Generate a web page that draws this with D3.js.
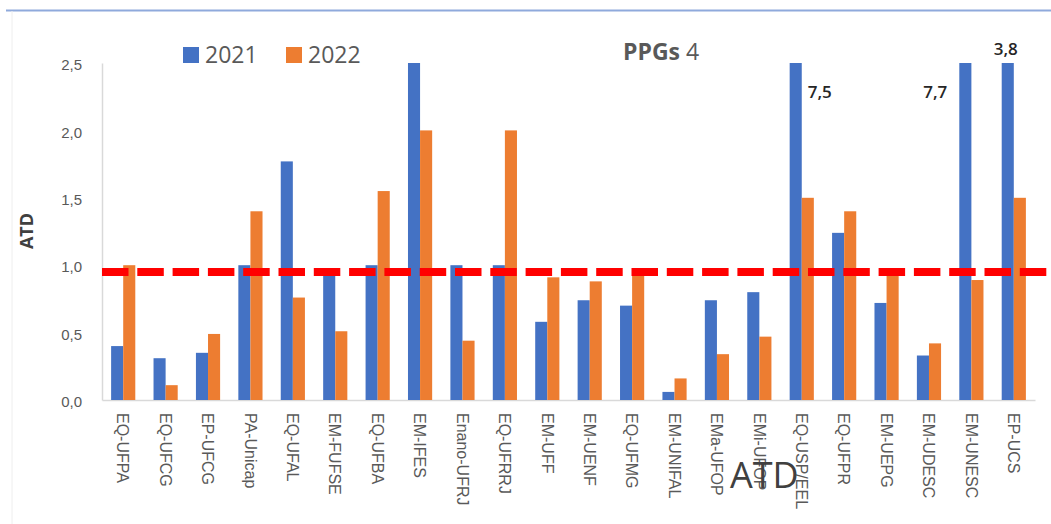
<!DOCTYPE html>
<html>
<head>
<meta charset="utf-8">
<script src="https://cdn.jsdelivr.net/npm/d3@7"></script>
<style>
  html, body { margin: 0; padding: 0; background: #fff; }
  svg { display: block; font-family: "Open Sans", "Liberation Sans", sans-serif; }
</style>
</head>
<body>
<svg id="chart" width="1051" height="524"></svg>
<script>
// ---- data ----
const categories = ["EQ-UFPA","EQ-UFCG","EP-UFCG","PA-Unicap","EQ-UFAL","EM-FUFSE","EQ-UFBA","EM-IFES","Enano-UFRJ","EQ-UFRRJ","EM-UFF","EM-UENF","EQ-UFMG","EM-UNIFAL","EMa-UFOP","EMi-UFOP","EQ-USP/EEL","EQ-UFPR","EM-UEPG","EM-UDESC","EM-UNESC","EP-UCS"];
const values2021 = [0.40,0.31,0.35,1.00,1.77,0.95,1.00,2.5,1.00,1.00,0.58,0.74,0.70,0.06,0.74,0.80,7.5,1.24,0.72,0.33,7.7,3.8];
const values2022 = [1.00,0.11,0.49,1.40,0.76,0.51,1.55,2.00,0.44,2.00,0.91,0.88,0.95,0.16,0.34,0.47,1.50,1.40,0.95,0.42,0.89,1.50];
const seriesNames = ["2021","2022"];
const yTicks = [0,0.5,1.0,1.5,2.0,2.5];
const referenceValue = 0.95;
const overflowLabels = [
  {category:"EQ-USP/EEL", text:"7,5"},
  {category:"EM-UNESC", text:"7,7"},
  {category:"EP-UCS", text:"3,8"}
];

// ---- layout ----
const W = 1051, H = 524;
const margin = {left:102, right:16, top:63, bottom:124};
const svg = d3.select("#chart");
const colors = {"2021":"#4472c4","2022":"#ed7d31"};

svg.append("rect").attr("width",W).attr("height",H).attr("fill","#fff");
// frame lines
svg.append("line").attr("x1",6).attr("x2",W).attr("y1",10.5).attr("y2",10.5)
  .attr("stroke","#8faadc").attr("stroke-width",2);
svg.append("line").attr("x1",12).attr("x2",12).attr("y1",11).attr("y2",H)
  .attr("stroke","#eeeeee").attr("stroke-width",1);

const x0 = d3.scaleBand().domain(categories).range([margin.left, W - margin.right])
  .paddingInner(0.43).paddingOuter(0.215);
const x1 = d3.scaleBand().domain(seriesNames).range([0, x0.bandwidth()]);
const y = d3.scaleLinear().domain([0,2.5]).range([H - margin.bottom, margin.top]);

const fmt = v => d3.format(".1f")(v).replace(".", ",");

// y axis
const yAxis = svg.append("g").attr("transform",`translate(${margin.left},0)`)
  .call(d3.axisLeft(y).tickValues(yTicks).tickFormat(fmt).tickSize(0).tickPadding(20));
yAxis.select(".domain").attr("stroke","#d9d9d9").attr("stroke-width",1.5);
yAxis.selectAll("text").attr("fill","#595959").attr("font-size",15).attr("dy","0.45em");

// x axis
const xAxis = svg.append("g").attr("transform",`translate(0,${y(0)})`)
  .call(d3.axisBottom(x0).tickSize(0).tickPadding(0));
xAxis.select(".domain").attr("stroke","#d9d9d9").attr("stroke-width",1.5);
xAxis.selectAll("text")
  .attr("fill","#595959").attr("font-size",16)
  .attr("text-anchor","start")
  .attr("transform","translate(0,13) rotate(90)")
  .attr("x",0).attr("y",0).attr("dy","0.36em");

// bars
const data = categories.map((c,i)=>({cat:c, vals:[{s:"2021",v:values2021[i]},{s:"2022",v:values2022[i]}]}));
const g = svg.append("g");
g.selectAll("g.cat").data(data).join("g").attr("class","cat")
  .attr("transform", d=>`translate(${x0(d.cat)},0)`)
  .selectAll("rect").data(d=>d.vals).join("rect")
  .attr("x", d=>x1(d.s)).attr("width", x1.bandwidth())
  .attr("y", d=>y(Math.min(d.v, 2.5)))
  .attr("height", d=>y(0)-y(Math.min(d.v,2.5)))
  .attr("fill", d=>colors[d.s]);

// overflow labels
overflowLabels.forEach(o=>{
  const bx = x0(o.category) + x1("2021");
  const bw = x1.bandwidth();
  const t = svg.append("text").text(o.text).attr("fill","#262626")
    .attr("font-size",17).attr("font-weight",600);
  if (o.category === "EQ-USP/EEL") t.attr("x", bx + bw + 6).attr("y", 98);
  else if (o.category === "EM-UNESC") t.attr("x", bx - 12).attr("y", 98).attr("text-anchor","end");
  else t.attr("x", bx + bw/2 - 2).attr("y", 55).attr("text-anchor","middle");
});

// reference dashed line
svg.append("line").attr("x1", margin.left).attr("x2", W - 4)
  .attr("y1", y(referenceValue)).attr("y2", y(referenceValue))
  .attr("stroke","#ff0000").attr("stroke-width",8).attr("stroke-dasharray","26.5 8.8");

// y axis title
svg.append("text").attr("transform",`translate(33,231) rotate(-90)`)
  .attr("text-anchor","middle").attr("font-size",18).attr("font-weight",700)
  .attr("fill","#404040").text("ATD");

// legend
const legend = svg.append("g");
const legendX = [183, 286];
seriesNames.forEach((s,i)=>{
  legend.append("rect").attr("x",legendX[i]).attr("y",47).attr("width",16).attr("height",16).attr("fill",colors[s]);
  legend.append("text").attr("x",legendX[i]+22).attr("y",63).attr("font-size",23)
    .attr("fill","#595959").text(s);
});

// title
const title = svg.append("text").attr("x",623).attr("y",60).attr("font-size",23).attr("fill","#595959");
title.append("tspan").attr("font-weight",700).text("PPGs");
title.append("tspan").text(" 4");

// overlay caption
svg.append("text").attr("x",730).attr("y",488).attr("font-size",36)
  .attr("fill","#404040").text("ATD");
</script>
</body>
</html>
